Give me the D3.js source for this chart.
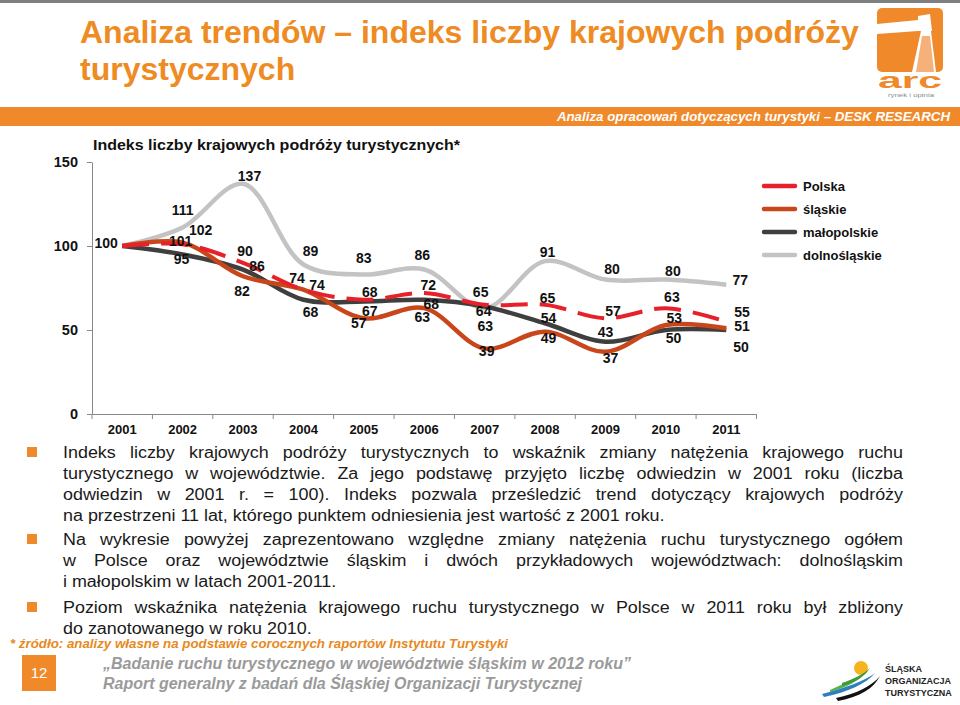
<!DOCTYPE html>
<html><head><meta charset="utf-8">
<script src="https://cdn.jsdelivr.net/npm/d3@7"></script>
<style>
html,body{margin:0;padding:0;background:#fff;}
svg{display:block;font-family:"Liberation Sans",Arial,sans-serif;}
</style></head>
<body>
<svg id="chart" width="960" height="705"></svg>
<script>
// ---------- DATA ----------
const years = ["2001","2002","2003","2004","2005","2006","2007","2008","2009","2010","2011"];
const polska       = [100,101,90,74,68,72,65,65,57,63,55];
const slaskie      = [100,102,82,74,57,63,39,49,37,53,51];
const malopolskie  = [100,95,86,68,67,68,64,54,43,50,50];
const dolnoslaskie = [100,111,137,89,83,86,63,91,80,80,77];
const seriesNames  = ["Polska","śląskie","małopolskie","dolnośląskie"];
const yTicks = [0,50,100,150];

// ---------- LAYOUT (label nudges, not data) ----------
const offP = [[-16,-3],[-2,-3],[2,-12],[-6.5,-12],[6,-8],[4,-8],[-4,-13],[2.5,-6.5],[7.5,-7.5],[6,-11],[15.7,-10]];
const offS = [null,[18,-13],[-1,15],[13.5,-4.4],[-5,4.5],[-2,9],[2,2],[3.5,6.6],[5,6.5],[8.4,-6.7],[15.7,-2.3]];
const offM = [null,[-1,5],[14,-3.5],[7,12],[6,10],[7,4.5],[-1,4],[3.5,-5],[0,-10],[7.7,8.3],[14.7,16.7]];
const offD = [null,[0,-17.5],[6.5,-8],[7,-14],[0,-17],[-2,-14.5],[0.6,18],[2.5,-9.5],[6.5,-11],[7,-9],[14,-5]];

const ORANGE = "#EE8B22";
const svg = d3.select("#chart");

// top grey strip
svg.append("rect").attr("x",0).attr("y",0).attr("width",960).attr("height",3).attr("fill","#7f7f7f");

// title
svg.append("text").attr("x",80).attr("y",43).attr("fill",ORANGE)
  .attr("font-size",32).attr("font-weight","bold").text("Analiza trendów – indeks liczby krajowych podróży");
svg.append("text").attr("x",80).attr("y",80).attr("fill",ORANGE)
  .attr("font-size",32).attr("font-weight","bold").text("turystycznych");

// ARC logo
const logo = svg.append("g");
logo.append("rect").attr("x",877).attr("y",8).attr("width",66).attr("height",64).attr("rx",5).attr("fill","#F0892A");
logo.append("path").attr("d","M877,24 L918,20 L918,31 L877,34 Z").attr("fill","#fff");
logo.append("path").attr("d","M918,16 L930,14 L932,31 L918,31 Z").attr("fill","#fff");
logo.append("path").attr("d","M921,31 L931,31 L936,72 L912,72 Z").attr("fill","#fff");
logo.append("path").attr("d","M922,36 L930,36 L934,72 L916,72 Z").attr("fill","#F6B07A");
logo.append("text").attr("x",878).attr("y",88).attr("fill","#F0892A")
  .attr("font-size",22).attr("font-weight","bold")
  .attr("textLength",64).attr("lengthAdjust","spacingAndGlyphs").text("arc");
logo.append("text").attr("x",888).attr("y",97).attr("fill","#888")
  .attr("font-size",6).attr("textLength",46).attr("lengthAdjust","spacingAndGlyphs").text("rynek i opinia");

// orange band
svg.append("rect").attr("x",0).attr("y",107).attr("width",960).attr("height",19).attr("fill","#F0892A");
svg.append("text").attr("x",950).attr("y",121).attr("text-anchor","end").attr("fill","#fff")
  .attr("font-size",13.3).attr("font-weight","bold").attr("font-style","italic")
  .text("Analiza opracowań dotyczących turystyki – DESK RESEARCH");

// chart title
svg.append("text").attr("x",93).attr("y",150).attr("font-size",15).attr("font-weight","bold").attr("fill","#111")
  .attr("textLength",367).attr("lengthAdjust","spacingAndGlyphs")
  .text("Indeks liczby krajowych podróży turystycznych*");

// ---------- CHART ----------
const x = d3.scaleBand().domain(years).range([92,756.5]).paddingInner(0).paddingOuter(0);
const y = d3.scaleLinear().domain([0,150]).range([414,162]);
const cx = d => x(d) + x.bandwidth()/2;

// y axis
const yAxis = svg.append("g").attr("transform","translate(92,0)")
  .call(d3.axisLeft(y).tickValues(yTicks).tickSize(5).tickPadding(9).tickSizeOuter(0));
yAxis.select(".domain").attr("stroke","#888");
yAxis.selectAll(".tick line").attr("stroke","#888");
yAxis.selectAll("text").attr("font-size",14.5).attr("font-weight","bold").attr("fill","#111")
  .attr("font-family","Liberation Sans, Arial, sans-serif");

// x axis
const xAxis = svg.append("g").attr("transform","translate(0,414)")
  .call(d3.axisBottom(x).tickSize(0).tickPadding(11).tickSizeOuter(0));
xAxis.select(".domain").attr("stroke","#888");
xAxis.selectAll("text").attr("font-size",13).attr("font-weight","bold").attr("fill","#111")
  .attr("font-family","Liberation Sans, Arial, sans-serif");
const bounds = years.map(d => x(d)).concat([x(years[years.length-1]) + x.bandwidth()]);
svg.append("g").selectAll("line").data(bounds).join("line")
  .attr("x1",d=>d).attr("x2",d=>d).attr("y1",414).attr("y2",419).attr("stroke","#888");

const series = [
  {name:"dolnośląskie", vals:dolnoslaskie, color:"#C3C3C3", dash:null, w:4.5, off:offD},
  {name:"małopolskie", vals:malopolskie, color:"#3F3F3F", dash:null, w:4.5, off:offM},
  {name:"śląskie", vals:slaskie, color:"#C9461B", dash:null, w:4.5, off:offS},
  {name:"Polska", vals:polska, color:"#E8202A", dash:"27,12", w:4, off:offP}
];

const line = d3.line().x((d,i)=>cx(years[i])).y(d=>y(d)).curve(d3.curveCatmullRom.alpha(0.5));
series.forEach(s=>{
  svg.append("path").attr("d",line(s.vals)).attr("fill","none")
    .attr("stroke",s.color).attr("stroke-width",s.w).attr("stroke-dasharray",s.dash)
    .attr("stroke-linejoin","round");
});
// labels
series.forEach(s=>{
  s.vals.forEach((v,i)=>{
    const o = s.off[i];
    if(!o) return;
    svg.append("text").attr("x",cx(years[i])+o[0]).attr("y",y(v)+o[1]).attr("dy","0.36em")
      .attr("text-anchor","middle").attr("font-size",14).attr("font-weight","bold").attr("fill","#111")
      .text(v);
  });
});

// legend
const legendOrder = [
  {name:"Polska", color:"#E8202A"},
  {name:"śląskie", color:"#C9461B"},
  {name:"małopolskie", color:"#3F3F3F"},
  {name:"dolnośląskie", color:"#C3C3C3"}
];
const lg = svg.append("g");
legendOrder.forEach((d,i)=>{
  const yy = 186 + i*23;
  lg.append("line").attr("x1",764).attr("x2",795).attr("y1",yy).attr("y2",yy)
    .attr("stroke",d.color).attr("stroke-width",4.5).attr("stroke-linecap","round");
  lg.append("text").attr("x",803).attr("y",yy).attr("dy","0.36em").attr("font-size",13)
    .attr("font-weight","bold").attr("fill","#111").text(d.name);
});

// ---------- TEXT BLOCK ----------
const paras = [
  {by:458, lines:[
    ["Indeks liczby krajowych podróży turystycznych to wskaźnik zmiany natężenia krajowego ruchu", true],
    ["turystycznego w województwie. Za jego podstawę przyjęto liczbę odwiedzin w 2001 roku (liczba", true],
    ["odwiedzin w 2001 r. = 100). Indeks pozwala prześledzić trend dotyczący krajowych podróży", true],
    ["na przestrzeni 11 lat, którego punktem odniesienia jest wartość z 2001 roku.", false]]},
  {by:545, lines:[
    ["Na wykresie powyżej zaprezentowano względne zmiany natężenia ruchu turystycznego ogółem", true],
    ["w Polsce oraz województwie śląskim i dwóch przykładowych województwach: dolnośląskim", true],
    ["i małopolskim w latach 2001-2011.", false]]},
  {by:613, lines:[
    ["Poziom wskaźnika natężenia krajowego ruchu turystycznego w Polsce w 2011 roku był zbliżony", true],
    ["do zanotowanego w roku 2010.", false]]}
];
const LEFT = 63, RIGHT = 903, FS = 16, LH = 21;
const probe = svg.append("text").attr("font-size",FS).text(paras[0].lines[3][0]);
const natural = probe.node().getComputedTextLength();
probe.remove();
const sx = 602 / natural;

const tb = svg.append("g").attr("fill","#1a1a1a");
paras.forEach(p=>{
  tb.append("rect").attr("x",27).attr("y",p.by-11).attr("width",10).attr("height",10).attr("fill","#F0892A");
  p.lines.forEach((ln,li)=>{
    const by = p.by + li*LH;
    const g = tb.append("g").attr("transform",`translate(${LEFT},${by}) scale(${sx},1)`);
    if(!ln[1]){
      g.append("text").attr("x",0).attr("y",0).attr("font-size",FS).text(ln[0]);
    } else {
      const words = ln[0].split(" ");
      const widths = words.map(w=>{
        const t = g.append("text").attr("font-size",FS).text(w);
        const wd = t.node().getComputedTextLength(); t.remove(); return wd;
      });
      const total = (RIGHT-LEFT)/sx;
      const sum = d3.sum(widths);
      const gap = (total - sum)/(words.length-1);
      let cur = 0;
      words.forEach((w,k)=>{
        g.append("text").attr("x",cur).attr("y",0).attr("font-size",FS).text(w);
        cur += widths[k] + gap;
      });
    }
  });
});

// footnote
svg.append("text").attr("x",10).attr("y",648).attr("fill","#E8891E")
  .attr("font-size",13).attr("font-weight","bold").attr("font-style","italic")
  .attr("textLength",498).attr("lengthAdjust","spacingAndGlyphs")
  .text("* źródło: analizy własne na podstawie corocznych raportów Instytutu Turystyki");

// page number
svg.append("rect").attr("x",22).attr("y",655).attr("width",34).attr("height",36).attr("fill","#F0892A");
svg.append("text").attr("x",39).attr("y",673).attr("dy","0.36em").attr("text-anchor","middle")
  .attr("fill","#fff").attr("font-size",15).text("12");

// footer lines
svg.append("text").attr("x",103).attr("y",669).attr("fill","#9a9a9a").attr("font-size",16)
  .attr("font-weight","bold").attr("font-style","italic")
  .attr("textLength",528).attr("lengthAdjust","spacingAndGlyphs")
  .text("„Badanie ruchu turystycznego w województwie śląskim w 2012 roku”");
svg.append("text").attr("x",103).attr("y",689).attr("fill","#9a9a9a").attr("font-size",16)
  .attr("font-weight","bold").attr("font-style","italic")
  .attr("textLength",479).attr("lengthAdjust","spacingAndGlyphs")
  .text("Raport generalny z badań dla Śląskiej Organizacji Turystycznej");

// Śląska Organizacja Turystyczna logo
const sl = svg.append("g");
sl.append("circle").attr("cx",861).attr("cy",668).attr("r",7).attr("fill","#F5B41E");
sl.append("path").attr("d","M830,690 C848,682 862,676 868,671 C860,680 846,688 830,692 Z").attr("fill","#5BB246");
sl.append("path").attr("d","M822,694 C845,688 865,681 875,673 C866,684 848,692 824,697 Z").attr("fill","#2E7FC1");
sl.append("path").attr("d","M836,698 C856,694 872,686 880,676 C874,688 860,697 838,701 Z").attr("fill","#111");
sl.append("path").attr("d","M842,683 C854,679 864,674 870,668 C864,677 856,682 842,686 Z").attr("fill","#3C9A3C");
["ŚLĄSKA","ORGANIZACJA","TURYSTYCZNA"].forEach((t,i)=>{
  sl.append("text").attr("x",885).attr("y",672+i*12).attr("font-size",9).attr("font-weight","bold")
    .attr("fill","#222").text(t);
});
</script>
</body></html>
